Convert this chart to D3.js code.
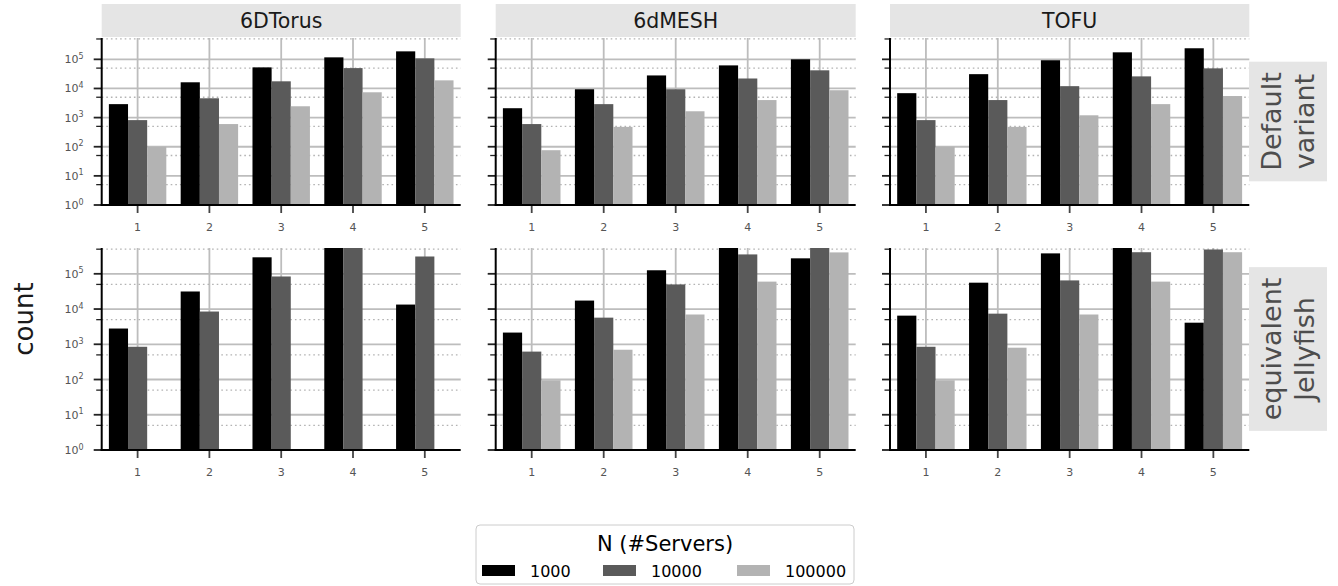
<!DOCTYPE html>
<html>
<head>
<meta charset="utf-8">
<script src="https://cdn.jsdelivr.net/npm/d3@7"></script>
<style>
  html, body { margin: 0; padding: 0; background: #fff; }
  svg { display: block; font-family: "DejaVu Sans", sans-serif; }
</style>
</head>
<body>
<svg id="chart" width="1338" height="586"></svg>
<script>
// ---------------- data ----------------
const topologies = ["6DTorus", "6dMESH", "TOFU"];
const variants = [["Default", "variant"], ["equivalent", "Jellyfish"]];
const hops = ["1", "2", "3", "4", "5"];
const serverSizes = ["1000", "10000", "100000"];
const yTickExponents = [0, 1, 2, 3, 4, 5];

// each array: one row per server size (1000, 10000, 100000), values per hop 1..5
const torusDefault = [
  [2900, 16300, 53000, 117000, 188000],
  [820, 4600, 17600, 50000, 108000],
  [100, 600, 2450, 7400, 19000]
];
const meshDefault = [
  [2100, 9400, 28000, 62000, 100000],
  [600, 2900, 9400, 22000, 42000],
  [76, 480, 1650, 4000, 8700]
];
const tofuDefault = [
  [6900, 31000, 93000, 174000, 240000],
  [820, 4000, 12000, 26000, 49000],
  [100, 480, 1200, 2900, 5500]
];
const torusJellyfish = [
  [2800, 31500, 294000, 600000, 13400],
  [850, 8500, 84000, 600000, 310000],
  [null, null, null, null, null]
];
const meshJellyfish = [
  [2150, 17400, 126000, 600000, 275000],
  [620, 5700, 50000, 355000, 600000],
  [95, 700, 7000, 60000, 405000]
];
const tofuJellyfish = [
  [6500, 56000, 380000, 600000, 4100],
  [850, 7400, 65000, 410000, 490000],
  [95, 800, 7000, 60000, 410000]
];

const panelData = [
  [torusDefault, meshDefault, tofuDefault],
  [torusJellyfish, meshJellyfish, tofuJellyfish]
];

// ---------------- style / layout ----------------
const barColors = ["#000000", "#5a5a5a", "#b3b3b3"];
const colExtents = [[101.7, 460.7], [495.7, 855.7], [890, 1249.3]];
const rowExtents = [[38, 205], [248, 450]];
const yDomain = [1, 5.4e5];

const svg = d3.select("#chart");
const color = d3.scaleOrdinal().domain(serverSizes).range(barColors);

function fmtSup(sel, e) {
  sel.append("tspan").text("10");
  sel.append("tspan").attr("font-size", "8px").attr("dy", "-4.5").text(String(e));
}

rowExtents.forEach((ry, r) => {
  colExtents.forEach((cx, c) => {
    const g = svg.append("g");
    const x = d3.scaleBand().domain(hops).range(cx).paddingInner(0).paddingOuter(0);
    const bw = x.bandwidth();
    const xs = d3.scaleBand().domain(serverSizes).range([bw * 0.1, bw * 0.9]).padding(0);
    const y = d3.scaleLog().domain(yDomain).range([ry[1], ry[0]]).clamp(true);

    const majors = yTickExponents.map(e => Math.pow(10, e));
    const minors = yTickExponents.map(e => 5 * Math.pow(10, e));

    // vertical grid
    g.selectAll(".vg").data(hops).join("line")
      .attr("x1", d => x(d) + bw / 2).attr("x2", d => x(d) + bw / 2)
      .attr("y1", ry[0]).attr("y2", ry[1])
      .attr("stroke", "#bdbdbd").attr("stroke-width", 1.8);
    // major horizontal grid
    g.selectAll(".hg").data(majors.slice(1)).join("line")
      .attr("x1", cx[0]).attr("x2", cx[1])
      .attr("y1", d => y(d)).attr("y2", d => y(d))
      .attr("stroke", "#bdbdbd").attr("stroke-width", 1.8);
    // minor dotted grid
    g.selectAll(".mg").data(minors).join("line")
      .attr("x1", cx[0]).attr("x2", cx[1])
      .attr("y1", d => y(d)).attr("y2", d => y(d))
      .attr("stroke", "#b3b3b3").attr("stroke-width", 1.3)
      .attr("stroke-dasharray", "1.6,3");

    // bars
    const series = panelData[r][c];
    series.forEach((vals, si) => {
      const s = serverSizes[si];
      g.selectAll(".bar" + si).data(hops.map((h, i) => ({ h, v: vals[i] })).filter(d => d.v != null))
        .join("rect")
        .attr("x", d => x(d.h) + xs(s))
        .attr("width", xs.bandwidth())
        .attr("y", d => y(d.v))
        .attr("height", d => y(yDomain[0]) - y(d.v))
        .attr("fill", color(s));
    });

    // y ticks
    g.selectAll(".yt").data(majors).join("line")
      .attr("x1", cx[0] - 8).attr("x2", cx[0])
      .attr("y1", d => y(d)).attr("y2", d => y(d))
      .attr("stroke", "#222").attr("stroke-width", 1.8);
    g.selectAll(".ymt").data(minors).join("line")
      .attr("x1", cx[0] - 5.5).attr("x2", cx[0])
      .attr("y1", d => y(d)).attr("y2", d => y(d))
      .attr("stroke", "#222").attr("stroke-width", 1.3);
    // x ticks
    g.selectAll(".xt").data(hops).join("line")
      .attr("x1", d => x(d) + bw / 2).attr("x2", d => x(d) + bw / 2)
      .attr("y1", ry[1]).attr("y2", ry[1] + 8)
      .attr("stroke", "#444").attr("stroke-width", 1.8);
    g.selectAll(".xl").data(hops).join("text")
      .attr("x", d => x(d) + bw / 2).attr("y", ry[1] + 26)
      .attr("text-anchor", "middle").attr("font-size", "11px").attr("fill", "#555")
      .text(d => d);

    // y tick labels (first column only)
    if (c === 0) {
      yTickExponents.forEach(e => {
        const t = g.append("text")
          .attr("x", cx[0] - 18).attr("y", y(Math.pow(10, e)) + 4)
          .attr("text-anchor", "end").attr("font-size", "11px").attr("fill", "#555");
        fmtSup(t, e);
      });
    }

    // axis lines
    g.append("line").attr("x1", cx[0]).attr("x2", cx[0]).attr("y1", ry[0]).attr("y2", ry[1] + 1)
      .attr("stroke", "#000").attr("stroke-width", 2);
    g.append("line").attr("x1", cx[0] - 1).attr("x2", cx[1]).attr("y1", ry[1]).attr("y2", ry[1])
      .attr("stroke", "#000").attr("stroke-width", 2);

    // column strip
    if (r === 0) {
      g.append("rect").attr("x", cx[0]).attr("y", 4).attr("width", cx[1] - cx[0]).attr("height", 33)
        .attr("fill", "#e5e5e5");
      g.append("text").attr("x", (cx[0] + cx[1]) / 2).attr("y", 28)
        .attr("text-anchor", "middle").attr("font-size", "20.5px").attr("fill", "#1a1a1a")
        .text(topologies[c]);
    }
    // row strip
    if (c === colExtents.length - 1) {
      const cy = (ry[0] + ry[1]) / 2;
      const sg = g.append("g");
      const rect = sg.append("rect").attr("fill", "#e5e5e5");
      const tg = sg.append("g").attr("transform", `translate(0,${cy}) rotate(-90)`);
      const lines = variants[r];
      let maxLen = 0;
      lines.forEach((ln, li) => {
        const t = tg.append("text")
          .attr("x", 0).attr("y", 1281 + li * 33)
          .attr("text-anchor", "middle").attr("font-size", "27px").attr("fill", "#4d4d4d")
          .text(ln);
        maxLen = Math.max(maxLen, t.node().getComputedTextLength());
      });
      const h = maxLen + 21;
      rect.attr("x", 1249).attr("width", 78).attr("y", cy - h / 2).attr("height", h);
    }
  });
});

// y axis title
svg.append("text")
  .attr("transform", "translate(33,319) rotate(-90)")
  .attr("text-anchor", "middle").attr("font-size", "26px").attr("fill", "#1a1a1a")
  .text("count");

// legend
const lg = svg.append("g").attr("transform", "translate(476,525)");
lg.append("rect").attr("x", 0).attr("y", 0).attr("width", 378).attr("height", 59).attr("rx", 4)
  .attr("fill", "#fff").attr("stroke", "#cccccc").attr("stroke-width", 1);
lg.append("text").attr("x", 189).attr("y", 26).attr("text-anchor", "middle")
  .attr("font-size", "21px").attr("fill", "#000").text("N (#Servers)");
const itemX = d3.scaleOrdinal().domain(serverSizes).range([6, 127, 261]);
serverSizes.forEach(s => {
  lg.append("rect").attr("x", itemX(s)).attr("y", 40).attr("width", 33).attr("height", 11)
    .attr("fill", color(s));
  lg.append("text").attr("x", itemX(s) + 48).attr("y", 52).attr("font-size", "16px").attr("fill", "#000")
    .text(s);
});
</script>
</body>
</html>
